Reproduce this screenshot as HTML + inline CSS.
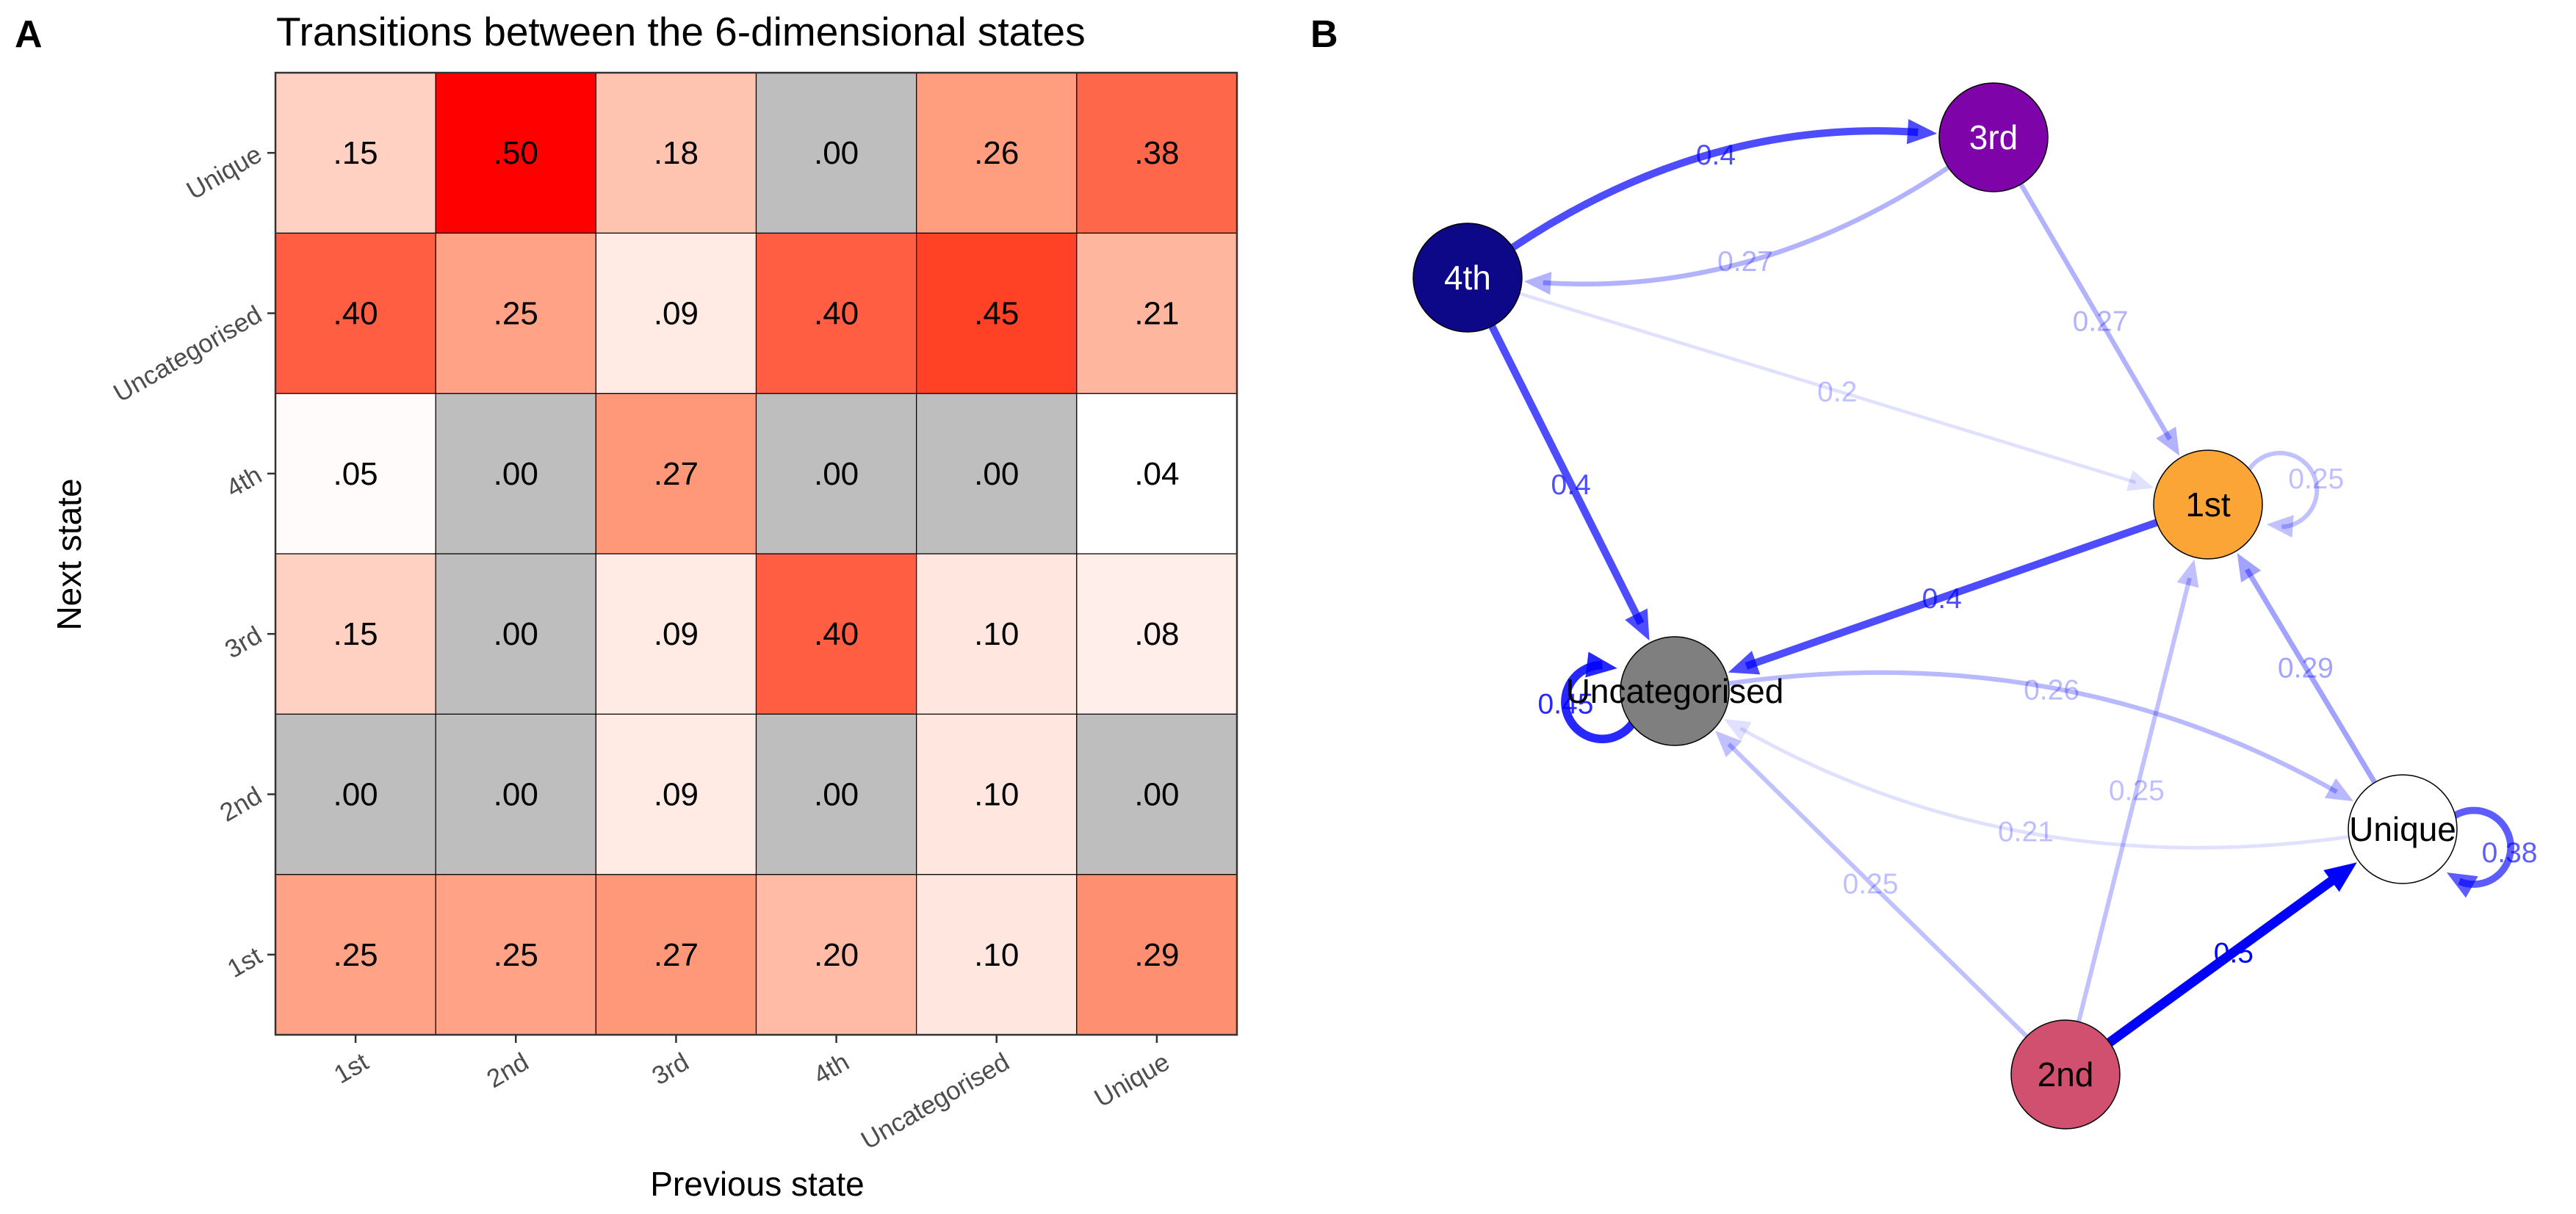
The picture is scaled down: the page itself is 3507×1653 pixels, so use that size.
<!DOCTYPE html>
<html><head><meta charset="utf-8"><style>
html,body{margin:0;padding:0;background:#fff}
svg{display:block;font-family:"Liberation Sans",Arial,sans-serif}
</style></head><body>
<svg id="fig" width="3507" height="1653" viewBox="0 0 3507 1653">
<text x="20" y="64" font-size="52" font-weight="bold">A</text>
<text x="376" y="62" font-size="55">Transitions between the 6-dimensional states</text>
<text x="1784" y="64" font-size="52" font-weight="bold">B</text>
<text x="1031" y="1628" font-size="46" text-anchor="middle">Previous state</text>
<text transform="translate(110,755) rotate(-90)" font-size="46" text-anchor="middle">Next state</text>
<g id="heat"></g>
<g id="net"></g>
</svg>
<script>
const prevStates = ["1st","2nd","3rd","4th","Uncategorised","Unique"];
const nextStates = ["1st","2nd","3rd","4th","Uncategorised","Unique"]; // bottom to top
const row1st   = [.25,.25,.27,.20,.10,.29];
const row2nd   = [.00,.00,.09,.00,.10,.00];
const row3rd   = [.15,.00,.09,.40,.10,.08];
const row4th   = [.05,.00,.27,.00,.00,.04];
const rowUncat = [.40,.25,.09,.40,.45,.21];
const rowUnique= [.15,.50,.18,.00,.26,.38];
const values = [row1st,row2nd,row3rd,row4th,rowUncat,rowUnique];

const nodeNames = ["4th","3rd","1st","Uncategorised","Unique","2nd"];
const nodeX = [1998,2714,3006,2280,3271,2812];
const nodeY = [378,187,687,941,1129,1463];
const nodeFill = ["#0D0887","#7E03A8","#FBA537","#7F7F7F","#FFFFFF","#D2506F"];
const nodeText = ["#fff","#fff","#000","#000","#000","#000"];
const edgeFrom = ["4th","3rd","3rd","4th","4th","1st","1st","Uncategorised","Uncategorised","Unique","Unique","2nd","2nd","2nd","Unique"];
const edgeTo   = ["3rd","4th","1st","1st","Uncategorised","Uncategorised","1st","Uncategorised","Unique","Uncategorised","1st","Unique","1st","Uncategorised","Unique"];
const edgeW    = [0.4,0.27,0.27,0.2,0.4,0.4,0.25,0.45,0.26,0.21,0.29,0.5,0.25,0.25,0.38];
const edgeCurve= [0.17,0.17,0,0,0,0,0,0,0.17,0.17,0,0,0,0,0];

const NS="http://www.w3.org/2000/svg";
function mk(tag,attrs,parent){const e=document.createElementNS(NS,tag);for(const k in attrs)e.setAttribute(k,attrs[k]);parent.appendChild(e);return e;}

// ---- heatmap ----
const X0=375,X1=1684,Y0=99,Y1=1409;
const cw=(X1-X0)/prevStates.length, ch=(Y1-Y0)/nextStates.length;
const xPos=i=>X0+i*cw, yPos=j=>Y1-(j+1)*ch;
const anchors=[[0.04,[255,255,255]],[0.10,[255,230,222]],[0.20,[255,187,165]],[0.27,[255,152,121]],[0.40,[255,94,66]],[0.45,[255,65,37]],[0.50,[255,0,0]]];
function colorFor(v){
  if(v<=0.001) return "#BEBEBE";
  if(v<=anchors[0][0]) return "rgb(255,255,255)";
  for(let k=1;k<anchors.length;k++){
    if(v<=anchors[k][0]){const a=anchors[k-1],b=anchors[k];const t=(v-a[0])/(b[0]-a[0]);
      const c=a[1].map((x,i)=>Math.round(x+(b[1][i]-x)*t));return `rgb(${c})`;}
  }
  return "rgb(255,0,0)";
}
const heat=document.getElementById('heat');
for(let j=0;j<nextStates.length;j++){
  for(let i=0;i<prevStates.length;i++){
    const v=values[j][i];
    const r=mk('rect',{x:xPos(i),y:yPos(j),width:cw,height:ch,fill:colorFor(v),stroke:"#000","stroke-width":1.2},heat);
    
    
    const t=mk('text',{x:xPos(i)+cw/2,y:yPos(j)+ch/2+15,"font-size":44,"text-anchor":"middle"},heat);
    t.textContent=v.toFixed(2).replace(/^0/,"");
    
    
  }
}
mk('rect',{x:X0,y:Y0,width:X1-X0,height:Y1-Y0,fill:"none",stroke:"#333","stroke-width":2.5},heat);
for(let i=0;i<prevStates.length;i++){
  const cx=xPos(i)+cw/2;
  mk('line',{x1:cx,y1:Y1,x2:cx,y2:Y1+11,stroke:"#333","stroke-width":2.5},heat);
  const t=mk('text',{transform:`translate(${cx+20},${Y1+44}) rotate(-30)`,"font-size":35,fill:"#4D4D4D","text-anchor":"end"},heat);
  t.textContent=prevStates[i];
  
  
}
for(let j=0;j<nextStates.length;j++){
  const cy=yPos(j)+ch/2;
  mk('line',{x1:X0-11,y1:cy,x2:X0,y2:cy,stroke:"#333","stroke-width":2.5},heat);
  const t=mk('text',{transform:`translate(${X0-16},${cy+9}) rotate(-30)`,"font-size":35,fill:"#4D4D4D","text-anchor":"end"},heat);
  t.textContent=nextStates[j];
  
  
}

// ---- network ----
const net=document.getElementById('net');
const R=74;
const idx=n=>nodeNames.indexOf(n);
function alphaFor(w){return Math.max(0.12,Math.min(1,(w-0.17)/0.33));}
function widthFor(w){return 28*w-1;}
function arrow(tx,ty,dx,dy,w,col,op){
  const L=Math.hypot(dx,dy);dx/=L;dy/=L;const len=30+w,hw=13+w*0.4;
  const bx=tx-dx*len,by=ty-dy*len;
  const p=mk('polygon',{points:`${tx},${ty} ${bx-dy*hw},${by+dx*hw} ${bx+dy*hw},${by-dx*hw}`,fill:col,"fill-opacity":op},net);
  
  
}
const loopDir={"1st":-0.2,"Uncategorised":Math.PI-0.15,"Unique":0.25};
const edgeLayer=mk('g',{},net);
for(let e=0;e<edgeFrom.length;e++){
  const a=idx(edgeFrom[e]),b=idx(edgeTo[e]),w=edgeW[e];
  const op=alphaFor(w),sw=widthFor(w),col="#0000FF";
  let lx,ly;
  if(a===b){
    const th=loopDir[edgeFrom[e]];
    const Cx=nodeX[a]+1.35*R*Math.cos(th),Cy=nodeY[a]+1.35*R*Math.sin(th),rl=0.68*R;
    const fs=th+Math.PI+0.6, fe=fs+2*Math.PI-1.6, fl=fe-0.42;
    let d="";
    const N=40;
    for(let k=0;k<=N;k++){const f=fs+(fl-fs)*k/N;d+=(k?"L":"M")+(Cx+rl*Math.cos(f)).toFixed(1)+","+(Cy+rl*Math.sin(f)).toFixed(1);}
    const pe=mk('path',{d:d,fill:"none",stroke:col,"stroke-opacity":op,"stroke-width":sw},edgeLayer);
    
    
    const ex=Cx+rl*Math.cos(fe),ey=Cy+rl*Math.sin(fe);
    arrow(ex,ey,-Math.sin(fe-0.3),Math.cos(fe-0.3),sw,col,op);
    lx=Cx+rl*Math.cos(th);ly=Cy+rl*Math.sin(th)+8;
  } else {
    const x1=nodeX[a],y1=nodeY[a],x2=nodeX[b],y2=nodeY[b];
    const dx=x2-x1,dy=y2-y1;
    const c=edgeCurve[e];
    const mx=(x1+x2)/2+c*dy,my=(y1+y2)/2-c*dx;
    let sdx=mx-x1,sdy=my-y1,sl=Math.hypot(sdx,sdy);
    let edx=x2-mx,edy=y2-my,el=Math.hypot(edx,edy);
    const sx=x1+sdx/sl*R,sy=y1+sdy/sl*R;
    const ex=x2-edx/el*(R+3),ey=y2-edy/el*(R+3);
    const lineEndX=ex-edx/el*26,lineEndY=ey-edy/el*26;
    const pe=mk('path',{d:`M${sx},${sy} Q${mx},${my} ${lineEndX},${lineEndY}`,fill:"none",stroke:col,"stroke-opacity":op,"stroke-width":sw},edgeLayer);
    
    
    arrow(ex,ey,edx,edy,sw,col,op);
    lx=0.25*sx+0.5*mx+0.25*ex;ly=0.25*sy+0.5*my+0.25*ey+14;
  }
  const t=mk('text',{x:lx,y:ly,"font-size":39,"text-anchor":"middle",fill:col,"fill-opacity":Math.max(op,0.25)},net);
  t.textContent=String(w);
  
  
}
for(let n=0;n<nodeNames.length;n++){
  const c=mk('circle',{cx:nodeX[n],cy:nodeY[n],r:R,fill:nodeFill[n],stroke:"#000","stroke-width":1.5},net);
  
  
}
for(let n=0;n<nodeNames.length;n++){
  const t=mk('text',{x:nodeX[n],y:nodeY[n]+16,"font-size":46,"text-anchor":"middle",fill:nodeText[n]},net);
  t.textContent=nodeNames[n];
  
  
}
</script>
</body></html>
